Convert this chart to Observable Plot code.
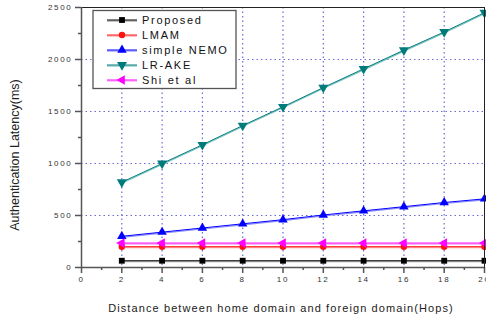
<!DOCTYPE html>
<html>
<head>
<meta charset="utf-8">
<script src="https://cdn.jsdelivr.net/npm/d3@7"></script>
<script src="https://cdn.jsdelivr.net/npm/@observablehq/plot@0.6"></script>
<style>
  html, body { margin: 0; padding: 0; background: #fff; }
  svg { font-family: "Liberation Sans", Arial, sans-serif; }
  g[aria-label="y-axis tick label"] text,
  g[aria-label="x-axis tick label"] text { letter-spacing: 1.7px; }
</style>
</head>
<body>
<div id="chart"></div>
<script>
// Hop counts between home and foreign domain
const hops = [2, 4, 6, 8, 10, 12, 14, 16, 18, 20];

// Authentication latency (ms) per scheme
const proposed = [65, 65, 65, 65, 65, 65, 65, 65, 65, 65];
const lmam     = [200, 200, 200, 200, 200, 200, 200, 200, 200, 200];
const nemo     = [300, 340, 380, 420, 460, 505, 545, 585, 625, 660];
const lrake    = [820, 1000, 1180, 1365, 1545, 1730, 1910, 2090, 2265, 2450];
const shi      = [235, 235, 235, 235, 235, 235, 235, 235, 235, 235];

const seriesNames = ["Proposed", "LMAM", "simple NEMO", "LR-AKE", "Shi et al"];
const seriesValues = [proposed, lmam, nemo, lrake, shi];

const yTicks = [0, 500, 1000, 1500, 2000, 2500];
const yMinor = [250, 750, 1250, 1750, 2250];
const yGrid = [500, 1000, 1500, 2000];
const xTicks = [0, 2, 4, 6, 8, 10, 12, 14, 16, 18, 20];
const xMinor = [1, 3, 5, 7, 9, 11, 13, 15, 17, 19];
const xGrid = [2, 4, 6, 8, 10, 12, 14, 16, 18];

// Triangle symbol pointing in a given direction (angle of the apex)
function triangle(angleDeg) {
  return {
    draw(context, size) {
      const side = Math.sqrt((size * 4) / Math.sqrt(3));
      const R = side / Math.sqrt(3);
      const a0 = (angleDeg * Math.PI) / 180;
      for (let i = 0; i < 3; i++) {
        const a = a0 + (i * 2 * Math.PI) / 3;
        const px = R * Math.cos(a), py = R * Math.sin(a);
        if (i === 0) context.moveTo(px, py); else context.lineTo(px, py);
      }
      context.closePath();
    }
  };
}

const styles = [
  { color: "#000000", shade: "#9a9a9a", symbol: d3.symbolSquare, r: 3.3 },
  { color: "#ff1010", shade: "#ff9a9a", symbol: d3.symbolCircle, r: 3.2 },
  { color: "#0000ff", shade: "#8c8cff", symbol: triangle(-90), r: 3.5 },
  { color: "#007b7b", shade: "#7cc4c4", symbol: triangle(90), r: 3.7 },
  { color: "#ff00ff", shade: "#ff9cff", symbol: triangle(180), r: 3.6 }
];

const rows = [];
seriesNames.forEach((name, i) => {
  hops.forEach((h, j) => rows.push({ series: name, idx: i, hops: h, latency: seriesValues[i][j] }));
});

const lineMarks = [];
seriesNames.forEach((name, i) => {
  const data = rows.filter(d => d.idx === i);
  const st = styles[i];
  lineMarks.push(Plot.line(data, { x: "hops", y: "latency", stroke: st.shade, strokeWidth: 1.2, dy: 1 }));
  lineMarks.push(Plot.line(data, { x: "hops", y: "latency", stroke: st.color, strokeWidth: 1 }));
});
const dotMarks = seriesNames.map((name, i) =>
  Plot.dot(rows.filter(d => d.idx === i), {
    x: "hops", y: "latency", fill: styles[i].color, stroke: "none",
    symbol: styles[i].symbol, r: styles[i].r
  })
);

const gridColor = "#6a6ad4";
const plain = d => String(d);

const svg = Plot.plot({
  width: 486,
  height: 322,
  marginLeft: 81,
  marginRight: 2,
  marginTop: 7,
  marginBottom: 55,
  x: { domain: [0, 20] },
  y: { domain: [0, 2500] },
  style: { background: "#fff", color: "#333", fontSize: "8px" },
  marks: [
    Plot.ruleX(xGrid, { stroke: gridColor, strokeWidth: 1.2, strokeDasharray: "1.5,3" }),
    Plot.ruleY(yGrid, { stroke: gridColor, strokeWidth: 1.2, strokeDasharray: "1.5,3" }),
    Plot.axisY({ ticks: yTicks, tickFormat: plain, tickSize: 6, tickPadding: 3, label: null, stroke: "#555", strokeWidth: 1.5, fontSize: 8 }),
    Plot.axisY({ ticks: yMinor, tickSize: 3, tickFormat: () => "", label: null, stroke: "#555", strokeWidth: 1.5 }),
    Plot.axisX({ ticks: xTicks, tickFormat: plain, tickSize: 6, tickPadding: 3, label: null, stroke: "#555", strokeWidth: 1.5, fontSize: 8 }),
    Plot.axisX({ ticks: xMinor, tickSize: 3, tickFormat: () => "", label: null, stroke: "#555", strokeWidth: 1.5 }),
    ...lineMarks,
    ...dotMarks,
    Plot.frame({ stroke: "#222", strokeWidth: 1 }),
    Plot.ruleX([0], { stroke: "#555", strokeWidth: 1.5 }),
    Plot.ruleY([0], { stroke: "#555", strokeWidth: 1.5 })
  ]
});

const root = d3.select(svg);

// Axis titles
root.append("text")
  .attr("transform", "translate(19,155) rotate(-90)")
  .attr("text-anchor", "middle")
  .attr("font-size", 12.5)
  .attr("fill", "#222")
  .text("Authentication Latency(ms)");

root.append("text")
  .attr("x", 281)
  .attr("y", 312)
  .attr("text-anchor", "middle")
  .attr("font-size", 11)
  .attr("letter-spacing", "1.1px")
  .attr("fill", "#222")
  .text("Distance between home domain and foreign domain(Hops)");

// Legend box with one sample line + marker per series
const legend = root.append("g");
legend.append("rect")
  .attr("x", 93).attr("y", 10.5)
  .attr("width", 143).attr("height", 78)
  .attr("fill", "#fff")
  .attr("stroke", "#555")
  .attr("stroke-width", 1.3);

const rowY = [20, 35, 50, 65, 80];
seriesNames.forEach((name, i) => {
  const st = styles[i];
  const g = legend.append("g").attr("transform", `translate(0,${rowY[i]})`);
  g.append("line").attr("x1", 107).attr("x2", 137).attr("y1", 1).attr("y2", 1)
    .attr("stroke", st.shade).attr("stroke-width", 1.2);
  g.append("line").attr("x1", 107).attr("x2", 137).attr("y1", 0).attr("y2", 0)
    .attr("stroke", st.color).attr("stroke-width", 1);
  g.append("path")
    .attr("transform", "translate(122,0)")
    .attr("d", d3.symbol(st.symbol, Math.PI * st.r * st.r)())
    .attr("fill", st.color);
  g.append("text")
    .attr("x", 142).attr("y", 0).attr("dy", "0.36em")
    .attr("text-anchor", "start")
    .attr("font-size", 11)
    .attr("letter-spacing", "1.7px")
    .attr("fill", "#111")
    .text(name);
});

document.getElementById("chart").appendChild(svg);
</script>
</body>
</html>
